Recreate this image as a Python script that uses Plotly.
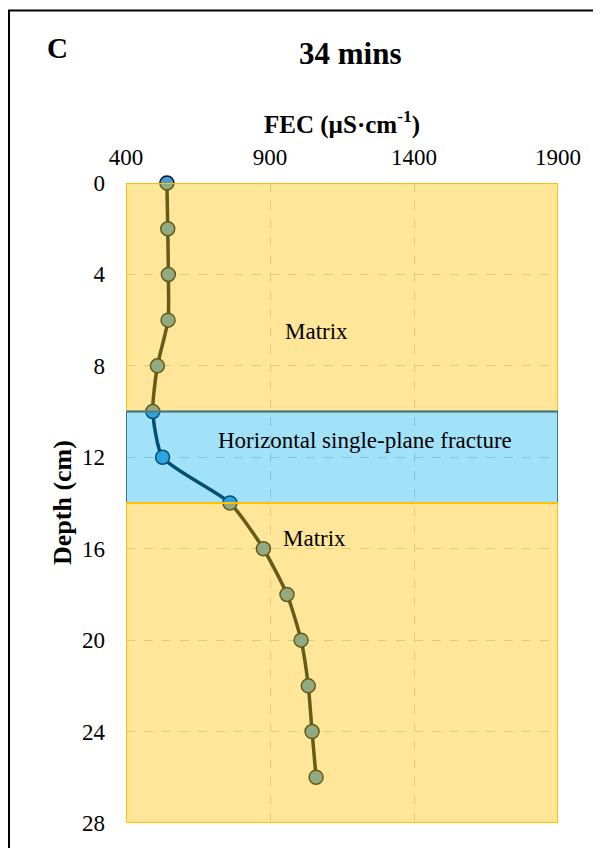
import plotly.graph_objects as go

depth = [0, 2, 4, 6, 8, 10, 12, 14, 16, 18, 20, 22, 24, 26]
fec = [542, 545, 547, 546, 509, 493, 527, 761, 877, 959, 1008, 1033, 1046, 1060]

x_ticks = [400, 900, 1400, 1900]
y_ticks = [0, 4, 8, 12, 16, 20, 24, 28]

zones = [  # (top, bottom, fill, border, label, label_x, label_y)
    (0, 10, "rgba(255,192,0,0.4)", "#FFC000", "Matrix", 1060, 6.5),
    (10, 14, "rgba(0,176,240,0.37)", "#41719C", "Horizontal single-plane fracture", 1230, 11.25),
    (14, 28, "rgba(255,192,0,0.4)", "#FFC000", "Matrix", 1053, 15.55),
]

serif = "Liberation Serif, Times New Roman, serif"

PW, PH = 432, 642
L, T = 118, 175
W, H = 593, 840

fig = go.Figure()
fig.add_trace(go.Scatter(
    x=fec, y=depth, mode="lines+markers",
    line=dict(color="#00182a", width=3.5, shape="spline", smoothing=0.6),
    marker=dict(size=14, color="#4A9BD8", line=dict(color="#00182a", width=1.5)),
    cliponaxis=False, showlegend=False,
))

shapes = []
annotations = []
for top, bot, fill, border, label, lx, ly in zones:
    shapes.append(dict(type="rect", xref="x", yref="y", x0=400, x1=1900, y0=top, y1=bot,
                       fillcolor=fill, line=dict(color=border, width=2), layer="above"))
    annotations.append(dict(x=lx, y=ly, xref="x", yref="y", text=label, showarrow=False,
                            xanchor="center", yanchor="middle",
                            font=dict(family=serif, size=23, color="black")))

# figure frame
shapes.append(dict(type="rect", xref="paper", yref="paper",
                   x0=(1 - L) / PW, x1=(W + 20 - L) / PW, y0=-0.06, y1=(T + PH - 2) / PH,
                   line=dict(color="black", width=2), fillcolor="rgba(0,0,0,0)", layer="above"))

def px(x):
    return (x - 126) / PW

def py(y):
    return (825 - y) / PH

annotations += [
    dict(x=px(57), y=py(48), xref="paper", yref="paper", text="<b>C</b>",
         xanchor="center", yanchor="middle",
         showarrow=False, font=dict(family=serif, size=29, color="black")),
    dict(x=px(350), y=py(53), xref="paper", yref="paper", text="<b>34 mins</b>",
         xanchor="center", yanchor="middle",
         showarrow=False, font=dict(family=serif, size=31, color="black")),
    dict(x=px(342), y=py(122), xref="paper", yref="paper",
         text="<b>FEC (µS·cm<sup>-1</sup>)</b>", xanchor="center", yanchor="middle",
         showarrow=False, font=dict(family=serif, size=25, color="black")),
    dict(x=px(62), y=py(504), xref="paper", yref="paper", text="<b>Depth (cm)</b>",
         textangle=-90, xanchor="center", yanchor="middle",
         showarrow=False, font=dict(family=serif, size=26, color="black")),
]

fig.update_layout(
    width=W, height=H,
    margin=dict(l=L, r=W - L - PW, t=T, b=H - T - PH),
    paper_bgcolor="white", plot_bgcolor="white",
    shapes=shapes, annotations=annotations,
    xaxis=dict(range=[400, 1900], side="top", tickvals=x_ticks, ticktext=[str(v) for v in x_ticks],
               showgrid=True, gridcolor="#cfcfcf", griddash="dash", gridwidth=1,
               zeroline=False, showline=False, ticks="", ticklabelstandoff=12,
               tickfont=dict(family=serif, size=23, color="black")),
    yaxis=dict(range=[28, 0], tickvals=y_ticks, ticktext=[str(v) for v in y_ticks],
               showgrid=True, gridcolor="#cfcfcf", griddash="dash", gridwidth=1,
               zeroline=False, showline=False, ticks="", ticklabelstandoff=20,
               tickfont=dict(family=serif, size=23, color="black")),
)

fig.write_html("out.html")
